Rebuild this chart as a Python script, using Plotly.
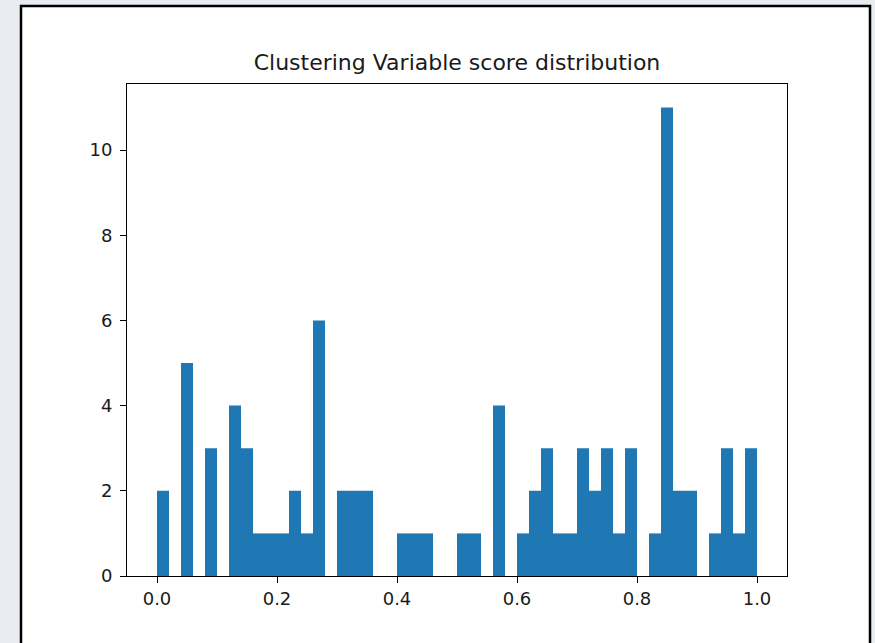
import plotly.graph_objects as go

# Histogram data: 50 bins of width 0.02 from 0 to 1
bin_width = 0.02
bin_lefts = [round(i * bin_width, 2) for i in range(50)]
counts = [2, 0, 5, 0, 3, 0, 4, 3, 1, 1,
          1, 2, 1, 6, 0, 2, 2, 2, 0, 0,
          1, 1, 1, 0, 0, 1, 1, 0, 4, 0,
          1, 2, 3, 1, 1, 3, 2, 3, 1, 3,
          0, 1, 11, 2, 2, 0, 1, 3, 1, 3]
x_ticks = [0.0, 0.2, 0.4, 0.6, 0.8, 1.0]
y_ticks = [0, 2, 4, 6, 8, 10]
title_text = "Clustering Variable score distribution"

W, H = 875, 643
L, R, T, B = 127, 787, 84, 576

def px_to_paper_x(px):
    return (px - L) / (R - L)

def px_to_paper_y(py):
    return (B - py) / (B - T)

centers = [b + bin_width / 2 for b in bin_lefts]

fig = go.Figure()
fig.add_trace(go.Bar(
    x=centers, y=counts, width=[bin_width] * len(counts),
    marker=dict(color="#1f77b4", line=dict(width=0)),
    hoverinfo="x+y",
))

font_family = "DejaVu Sans"

fig.update_layout(
    width=W, height=H,
    margin=dict(l=L, r=W - R, t=T, b=H - B, pad=0),
    paper_bgcolor="#e9edf1",
    plot_bgcolor="white",
    showlegend=False,
    font=dict(family=font_family, color="#1a1a1a", size=18),
    title=dict(text=title_text, x=0.5, xanchor="center", xref="paper",
               y=1, yref="paper", yanchor="bottom",
               pad=dict(b=14),
               font=dict(family=font_family, size=22, color="#1a1a1a")),
    xaxis=dict(range=[-0.05, 1.05], tickvals=x_ticks, tickformat=".1f",
               showgrid=False, zeroline=False, showline=True, mirror=True,
               linecolor="black", linewidth=1, ticks="outside", ticklen=6,
               tickcolor="black", tickwidth=1),
    yaxis=dict(range=[0, 11.55], tickvals=y_ticks,
               showgrid=False, zeroline=False, showline=True, mirror=True,
               linecolor="black", linewidth=1, ticks="outside", ticklen=6,
               tickcolor="black", tickwidth=1, ticklabelstandoff=4),
    shapes=[dict(type="rect", xref="paper", yref="paper", layer="below",
                 x0=px_to_paper_x(21), x1=px_to_paper_x(870),
                 y0=px_to_paper_y(660), y1=px_to_paper_y(6),
                 fillcolor="white", line=dict(color="black", width=2.5))],
)

fig.write_html("out.html")
